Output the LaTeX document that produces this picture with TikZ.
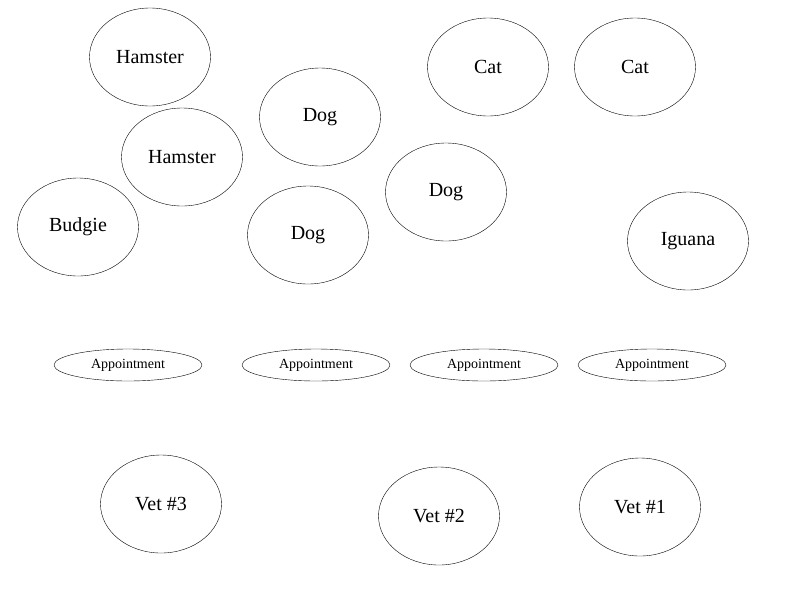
\documentclass[tikz,border=0pt]{standalone}
\usepackage{fontspec}
\setmainfont{Liberation Serif}
\usetikzlibrary{shapes.geometric}
\begin{document}
\begin{tikzpicture}[x=1pt,y=-1pt]
      %outline styles
      \tikzset{
      pet/.style={draw, ellipse, inner sep=0pt, minimum width=121pt, minimum height=98pt, font=\fontsize{20}{22}\selectfont},
      appt/.style={draw, ellipse, inner sep=0pt, minimum width=148pt, minimum height=32pt, font=\fontsize{14}{16}\selectfont},
      }
      \useasboundingbox (0,0) rectangle (794,595);

      %animals
      \node[pet] (hamsterA) at (150,57) {Hamster};
      \node[pet] (hamsterB) at (182,157) {Hamster};
      \node[pet] (budgie) at (78,227) {Budgie};
      \node[pet] (dogA) at (320,117) {Dog};
      \node[pet] (dogB) at (308,235) {Dog};
      \node[pet] (dogC) at (446,192) {Dog};
      \node[pet] (catA) at (488,67) {Cat};
      \node[pet] (catB) at (635,67) {Cat};
      \node[pet] (iguana) at (688,241) {Iguana};

      %appointments
      \node[appt] (apptA) at (128,365) {Appointment};
      \node[appt] (apptB) at (316,365) {Appointment};
      \node[appt] (apptC) at (484,365) {Appointment};
      \node[appt] (apptD) at (652,365) {Appointment};

      %vets
      \node[pet] (vetC) at (161,504) {Vet \#3};
      \node[pet] (vetB) at (439,516) {Vet \#2};
      \node[pet] (vetA) at (640,507) {Vet \#1};
\end{tikzpicture}
\end{document}
